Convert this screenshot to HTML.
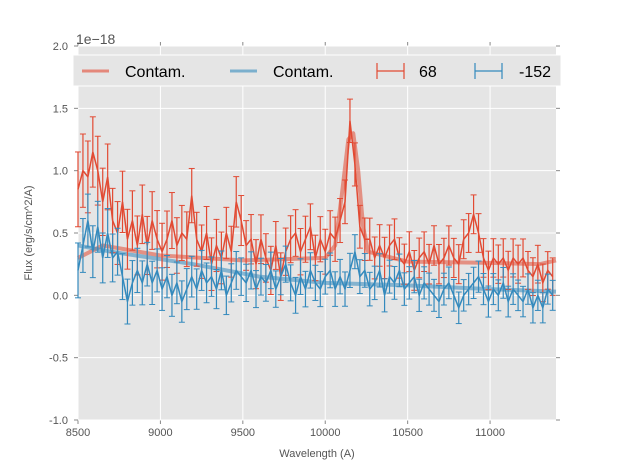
<!DOCTYPE html>
<html><head><meta charset="utf-8"><style>
body{margin:0;background:#fff;width:617px;height:467px;overflow:hidden}
svg text{font-family:"Liberation Sans",sans-serif}
</style></head><body>
<svg id="chart" width="617" height="467"></svg>
<script>
const wl=[8500,8530,8560,8590,8620,8650,8680,8710,8740,8770,8800,8830,8860,8890,8920,8950,8980,9010,9040,9070,9100,9130,9160,9190,9220,9250,9280,9310,9340,9370,9400,9430,9460,9490,9520,9550,9580,9610,9640,9670,9700,9730,9760,9790,9820,9850,9880,9910,9940,9970,10000,10030,10060,10090,10120,10150,10180,10210,10240,10270,10300,10330,10360,10390,10420,10450,10480,10510,10540,10570,10600,10630,10660,10690,10720,10750,10780,10810,10840,10870,10900,10930,10960,10990,11020,11050,11080,11110,11140,11170,11200,11230,11260,11290,11320,11350,11380];
const red=[0.85,1.0,0.95,1.15,1.0,0.75,0.95,0.6,0.5,0.75,0.45,0.6,0.4,0.65,0.4,0.6,0.45,0.35,0.45,0.6,0.4,0.5,0.45,0.8,0.45,0.35,0.5,0.25,0.4,0.3,0.5,0.35,0.75,0.6,0.4,0.45,0.25,0.45,0.3,0.2,0.4,0.15,0.35,0.45,0.5,0.35,0.45,0.55,0.3,0.45,0.35,0.5,0.45,0.6,0.75,1.4,1.05,0.55,0.45,0.45,0.3,0.4,0.3,0.4,0.45,0.3,0.25,0.35,0.2,0.3,0.35,0.25,0.4,0.25,0.3,0.4,0.3,0.25,0.45,0.5,0.65,0.5,0.3,0.2,0.3,0.25,0.3,0.2,0.3,0.25,0.3,0.2,0.15,0.25,0.1,0.2,0.15];
const blue=[0.2,0.4,0.6,0.35,0.55,0.3,0.5,0.3,0.35,0.15,-0.05,0.1,0.2,0.1,0.25,0.1,0.2,0.05,0.15,0.0,0.1,-0.05,0.05,0.15,0.05,0.2,0.1,0.15,0.05,0.2,0.0,0.1,0.2,0.15,0.1,0.2,0.05,0.15,0.1,0.2,0.05,0.15,0.25,0.1,0.0,0.15,0.05,0.2,0.1,0.05,0.15,0.2,0.05,0.15,0.05,0.2,0.35,0.15,0.2,0.05,0.1,0.2,0.0,0.15,0.1,0.2,0.05,0.1,0.15,0.0,0.1,0.05,0.0,-0.05,0.05,0.1,0.0,-0.1,0.0,0.05,0.1,0.15,0.05,-0.05,0.05,0.0,0.1,-0.05,0.05,0.0,-0.05,0.05,-0.1,0.0,-0.1,0.05,0.0];
const errWlBreaks=[8500,8800,9500,10500,11400];
const errRed=[0.3,0.24,0.2,0.16,0.15];
const errBlue=[0.22,0.18,0.15,0.13,0.12];
const contamWl=[8500,8650,9000,9500,10000,10060,10100,10140,10170,10200,10230,10260,10500,11000,11300,11400];
const contamRed=[0.3,0.4,0.32,0.28,0.3,0.4,0.8,1.25,1.3,1.0,0.55,0.35,0.27,0.26,0.25,0.28];
const contamBlueWl=[8500,8700,9200,9600,10000,10500,11000,11400];
const contamBlue=[0.4,0.35,0.25,0.15,0.1,0.08,0.05,0.03];
const xTicks=[8500,9000,9500,10000,10500,11000];
const yTicks=[-1.0,-0.5,0.0,0.5,1.0,1.5,2.0];

const L=78,R=556,T=46,B=420,X0=8500,X1=11400,Y0=-1,Y1=2;
const sx=v=>L+(v-X0)/(X1-X0)*(R-L);
const sy=v=>B-(v-Y0)/(Y1-Y0)*(B-T);
const svg=document.getElementById('chart');
const NS='http://www.w3.org/2000/svg';
function mk(t,a,p){const e=document.createElementNS(NS,t);for(const k in a)e.setAttribute(k,a[k]);(p||svg).appendChild(e);return e;}
function errAt(arr,w){for(let i=0;i<errWlBreaks.length-1;i++){if(w<=errWlBreaks[i+1]){const f=(w-errWlBreaks[i])/(errWlBreaks[i+1]-errWlBreaks[i]);return arr[i]+f*(arr[i+1]-arr[i]);}}return arr[arr.length-1];}

let bg=mk('rect',{x:L,y:T,width:R-L,height:B-T,fill:'#e5e5e5'});


xTicks.forEach(t=>{
 let g=mk('line',{x1:sx(t),x2:sx(t),y1:T,y2:B,stroke:'#fff','stroke-width':1});
 
 
 mk('line',{x1:sx(t),x2:sx(t),y1:B,y2:B+4,stroke:'#888'});
 mk('line',{x1:sx(t),x2:sx(t),y1:T,y2:T-4,stroke:'#888'});
 let tx=mk('text',{x:sx(t),y:B+16,'text-anchor':'middle','font-size':11,fill:'#555'});tx.textContent=t;
 
 
});
yTicks.forEach(t=>{
 let g=mk('line',{x1:L,x2:R,y1:sy(t),y2:sy(t),stroke:'#fff','stroke-width':1});
 
 
 mk('line',{x1:L-4,x2:L,y1:sy(t),y2:sy(t),stroke:'#888'});
 mk('line',{x1:R,x2:R+4,y1:sy(t),y2:sy(t),stroke:'#888'});
 let tx=mk('text',{x:L-10,y:sy(t)+4,'text-anchor':'end','font-size':11,fill:'#555'});tx.textContent=t.toFixed(1);
 
 
});
function poly(xs,ys,col,w,op,name){
 const p=mk('polyline',{points:xs.map((x,i)=>sx(x)+','+sy(ys[i])).join(' '),fill:'none',stroke:col,'stroke-width':w,'stroke-opacity':op,'stroke-linejoin':'round'});
 
 
}
poly(contamWl,contamRed,'#e24a33',4,0.55,'contam-line-red');
poly(contamBlueWl,contamBlue,'#348abd',4,0.55,'contam-line-blue');
function series(vals,errs,col,name){
 const g=mk('g',{});
 
 
 wl.forEach((w,i)=>{const e=errAt(errs,w),x=sx(w),a=sy(vals[i]+e),b=sy(vals[i]-e);
  mk('line',{x1:x,x2:x,y1:a,y2:b,stroke:col,'stroke-width':1.2},g);
  mk('line',{x1:x-3,x2:x+3,y1:a,y2:a,stroke:col,'stroke-width':1},g);
  mk('line',{x1:x-3,x2:x+3,y1:b,y2:b,stroke:col,'stroke-width':1},g);});
 mk('polyline',{points:wl.map((w,i)=>sx(w)+','+sy(vals[i])).join(' '),fill:'none',stroke:col,'stroke-width':1.5},g);
}
series(red,errRed,'#e24a33','series-68');
series(blue,errBlue,'#348abd','series-minus-152');

let lg=mk('g',{});


mk('rect',{x:73,y:55,width:488,height:31,fill:'#e5e5e5',stroke:'#fff','stroke-width':1},lg);
const ly=71;
mk('line',{x1:82,x2:109,y1:ly,y2:ly,stroke:'#e24a33','stroke-width':3,'stroke-opacity':0.6},lg);
mk('line',{x1:230,x2:257,y1:ly,y2:ly,stroke:'#348abd','stroke-width':3,'stroke-opacity':0.6},lg);
[[377,'#e24a33'],[475,'#348abd']].forEach(([x,c])=>{
 mk('line',{x1:x,x2:x+27,y1:ly,y2:ly,stroke:c,'stroke-width':1.2},lg);
 mk('line',{x1:x,x2:x,y1:ly-8,y2:ly+8,stroke:c,'stroke-width':1.2},lg);
 mk('line',{x1:x+27,x2:x+27,y1:ly-8,y2:ly+8,stroke:c,'stroke-width':1.2},lg);
});
[[125,'Contam.'],[273,'Contam.'],[419,'68'],[519,'-152']].forEach(([x,t])=>{
 let tx=mk('text',{x:x,y:ly+6,'font-size':16,fill:'#000'},lg);tx.textContent=t;
 
 
});
let off=mk('text',{x:76,y:44,'font-size':14,fill:'#555'});off.textContent='1e\u221218';


let xt=mk('text',{x:(L+R)/2,y:457,'text-anchor':'middle','font-size':11,fill:'#555'});xt.textContent='Wavelength (A)';


let yt=mk('text',{x:32,y:(T+B)/2,'text-anchor':'middle','font-size':11,fill:'#555',transform:'rotate(-90 32 '+((T+B)/2)+')'});yt.textContent='Flux (erg/s/cm^2/A)';


</script>
</body></html>
